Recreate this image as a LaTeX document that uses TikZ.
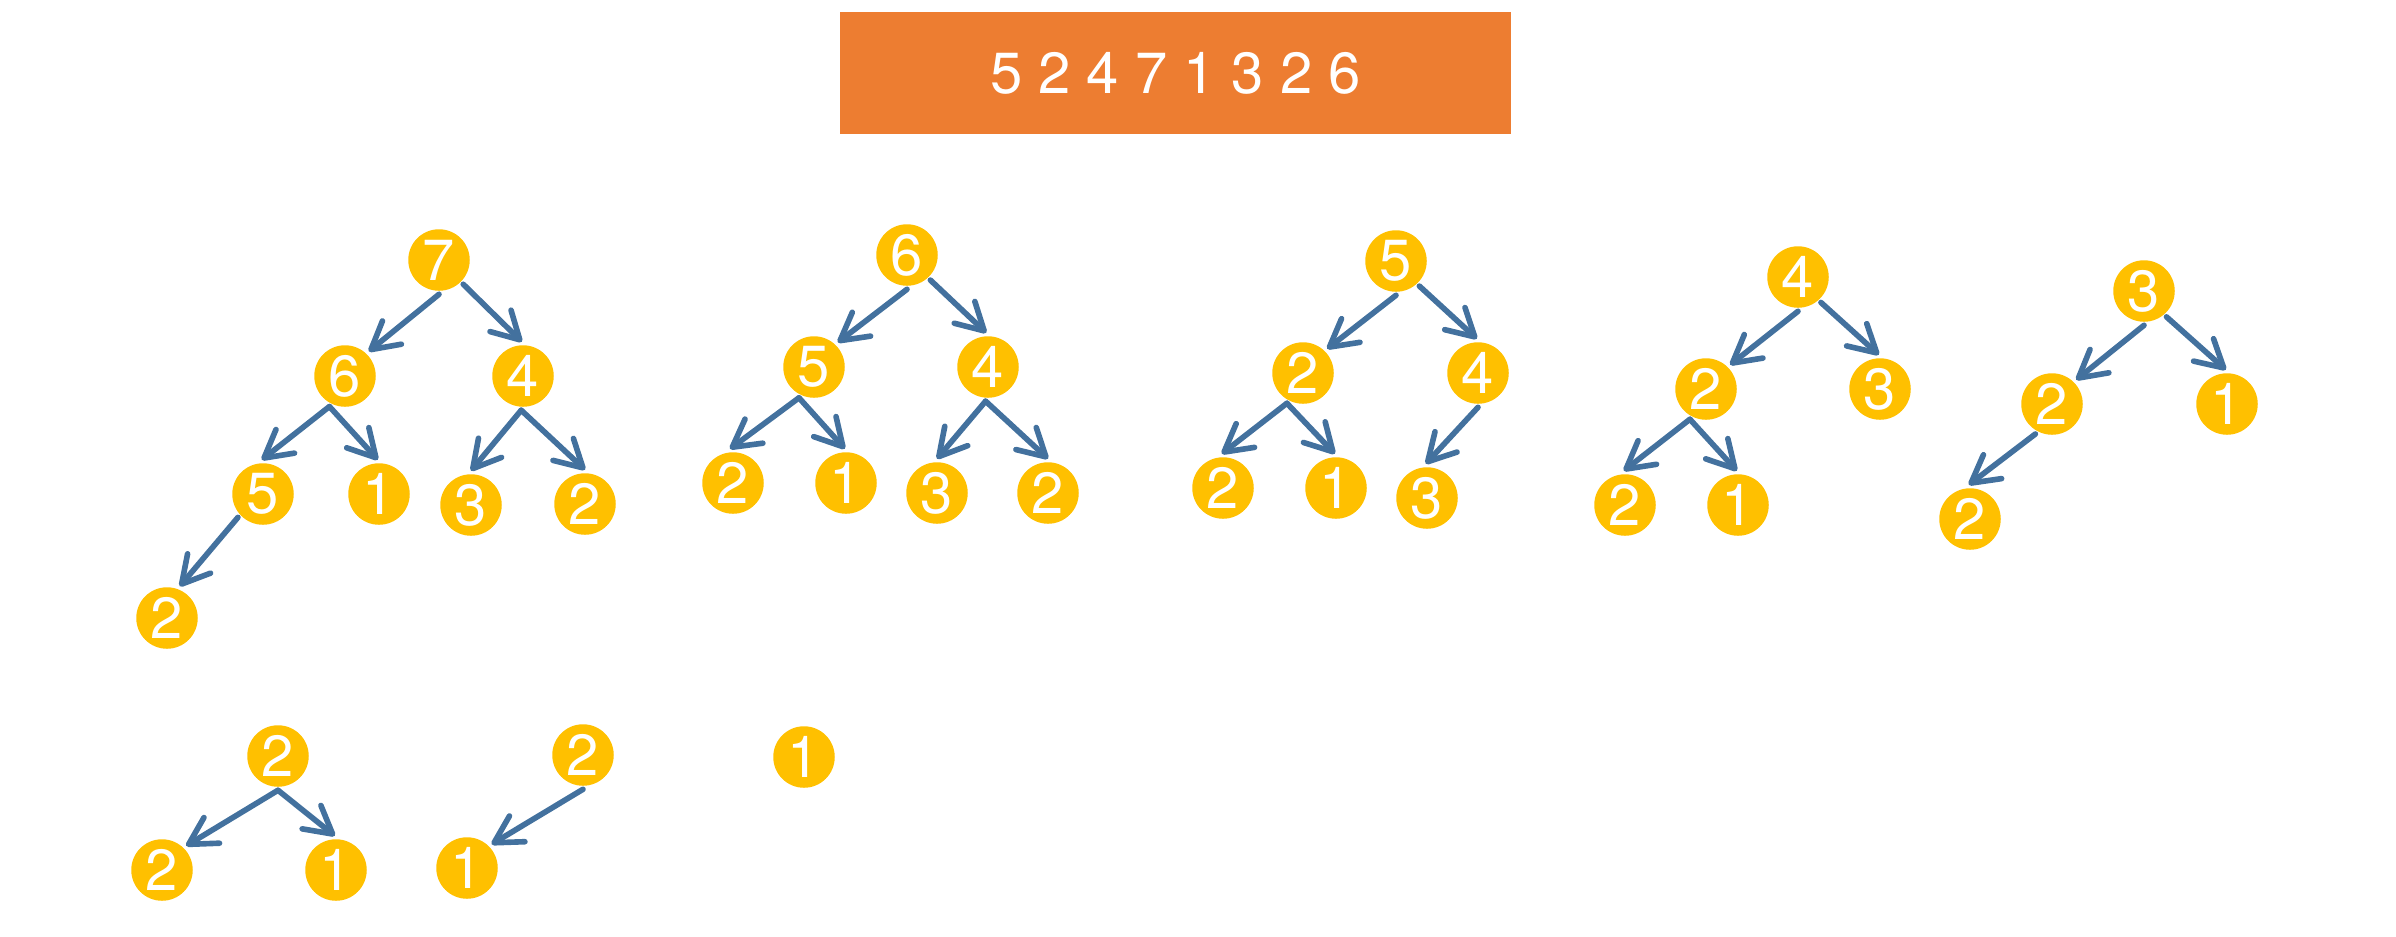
\documentclass[tikz,border=0pt]{standalone}
\usepackage{fontspec}
\setmainfont{TeX Gyre Heros}
\usetikzlibrary{arrows.meta}

\begin{document}
\begin{tikzpicture}[
    x=0.1mm,
    y=-0.1mm,
    heap node/.style={circle, fill=heapYellow, text=white, minimum size=6.15mm,
      inner sep=0pt, outer sep=1pt, font=\fontsize{16.5}{16.5}\selectfont},
    heap link/.style={draw=heapBlue, line width=1.6pt, line cap=round,
      -{Straight Barb[length=2.7mm, width=3mm, round]}},
    array box/.style={fill=arrayOrange, text=white, minimum width=67.1mm,
      minimum height=12.2mm, inner sep=0pt, font=\fontsize{16.5}{16.5}\selectfont}
]

\definecolor{heapYellow}{RGB}{255,192,0}
\definecolor{heapBlue}{RGB}{67,113,158}
\definecolor{arrayOrange}{RGB}{237,125,49}

\useasboundingbox (0,0) rectangle (2396,936);

% Input array.
\node[array box] (arr) at (1175.5,73) {5 2 4 7 1 3 2 6};

% Heap after build: 7 6 4 5 1 3 2 2.
\node[heap node] (a7) at (439,260) {7};
\node[heap node] (a6) at (345,376) {6};
\node[heap node] (a4) at (523,376) {4};
\node[heap node] (a5) at (263,494) {5};
\node[heap node] (a1) at (379,494) {1};
\node[heap node] (a3) at (471,505) {3};
\node[heap node] (a2) at (585,504) {2};
\node[heap node] (a2b) at (167,618) {2};
\draw[heap link] (a7.-90) -- (a6.46);
\draw[heap link] (a7.-45) -- (a4.92);
\draw[heap link] (a6.-117) -- (a5.92);
\draw[heap link] (a6.-117) -- (a1.92);
\draw[heap link] (a4.-93) -- (a3.90);
\draw[heap link] (a4.-93) -- (a2.90);
\draw[heap link] (a5.-137) -- (a2b.68);

% 7 removed.
\node[heap node] (b6) at (907,255) {6};
\node[heap node] (b5) at (814,367) {5};
\node[heap node] (b4) at (988,367) {4};
\node[heap node] (b2l) at (733,483) {2};
\node[heap node] (b1) at (846,483) {1};
\node[heap node] (b3) at (937,493) {3};
\node[heap node] (b2r) at (1048,493) {2};
\draw[heap link] (b6.-90) -- (b5.46);
\draw[heap link] (b6.-47) -- (b4.93);
\draw[heap link] (b5.-116) -- (b2l.95);
\draw[heap link] (b5.-116) -- (b1.92);
\draw[heap link] (b4.-94) -- (b3.90);
\draw[heap link] (b4.-94) -- (b2r.90);

% 6 removed.
\node[heap node] (c5) at (1396,261) {5};
\node[heap node] (c2) at (1303,373) {2};
\node[heap node] (c4) at (1478,373) {4};
\node[heap node] (c2b) at (1223,488) {2};
\node[heap node] (c1) at (1336,488) {1};
\node[heap node] (c3) at (1427,498) {3};
\draw[heap link] (c5.-90) -- (c2.45);
\draw[heap link] (c5.-47) -- (c4.92);
\draw[heap link] (c2.-118) -- (c2b.92);
\draw[heap link] (c2.-118) -- (c1.92);
\draw[heap link] (c4.-90) -- (c3.92);

% 5 removed.
\node[heap node] (d4) at (1798,277) {4};
\node[heap node] (d2) at (1706,389) {2};
\node[heap node] (d3) at (1880,389) {3};
\node[heap node] (d2b) at (1625,505) {2};
\node[heap node] (d1) at (1738,505) {1};
\draw[heap link] (d4.-90) -- (d2.45);
\draw[heap link] (d4.-48) -- (d3.92);
\draw[heap link] (d2.-118) -- (d2b.92);
\draw[heap link] (d2.-118) -- (d1.92);

% 4 removed.
\node[heap node] (e3) at (2144,291) {3};
\node[heap node] (e2) at (2052,404) {2};
\node[heap node] (e1) at (2227,404) {1};
\node[heap node] (e2b) at (1970,519) {2};
\draw[heap link] (e3.-90) -- (e2.45);
\draw[heap link] (e3.-49) -- (e1.92);
\draw[heap link] (e2.-119) -- (e2b.92);

% 3, 2 and 2 removed.
\node[heap node] (f2) at (278,756) {2};
\node[heap node] (f2b) at (162,870) {2};
\node[heap node] (f1) at (336,870) {1};
\draw[heap link] (f2.-90) -- (f2b.45);
\draw[heap link] (f2.-90) -- (f1.92);

\node[heap node] (g2) at (583,755) {2};
\node[heap node] (g1) at (467,868) {1};
\draw[heap link] (g2.-90) -- (g1.44);

\node[heap node] (h1) at (804,757) {1};

\end{tikzpicture}
\end{document}
